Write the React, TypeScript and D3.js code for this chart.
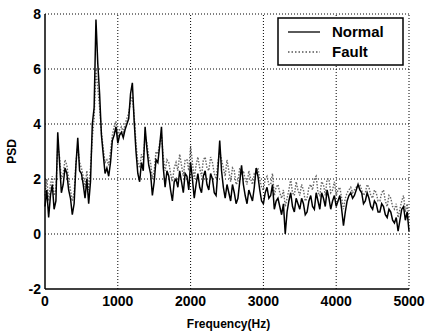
import * as d3 from "d3"

// PSD sampled every 25 Hz, 0..5000 Hz (one row = 200 Hz)
const freqStep = 25
const normalPsd = [
  1.0, 1.6, 0.6, 1.4, 1.8, 0.9, 1.2, 3.7,
  2.6, 1.5, 1.8, 2.4, 2.2, 1.6, 1.3, 0.7,
  1.1, 2.5, 3.5, 2.3, 2.2, 1.8, 1.3, 2.0,
  1.1, 1.9, 4.0, 4.6, 7.8, 6.2, 5.1, 3.6,
  2.9, 2.2, 2.4, 2.1, 2.6, 3.4, 3.6, 3.9,
  3.3, 3.6, 3.7, 3.5, 3.8, 4.0, 4.2, 5.1,
  5.5, 4.1, 3.0, 2.2, 1.9, 2.6, 2.3, 3.9,
  3.1, 2.5, 2.2, 1.4, 1.9, 2.7, 2.6, 3.2,
  3.9, 2.4, 1.7, 2.3, 2.1, 1.6, 1.2, 1.9,
  2.0, 1.7, 2.3, 1.9, 1.5, 2.2, 2.1, 1.6,
  2.6, 2.0, 1.3, 1.8, 2.2, 1.7, 1.5, 2.1,
  2.3, 1.8, 1.6, 2.2, 2.0, 1.5, 1.4, 2.3,
  3.4, 2.3, 1.7, 1.3, 1.8, 1.5, 1.2, 1.8,
  1.5, 1.1, 1.3, 1.9, 2.5, 1.8, 1.4, 1.1,
  1.6, 1.4, 1.2, 1.7, 2.4, 2.1, 1.6, 1.2,
  1.1, 1.5, 1.7, 1.3, 1.4, 1.8, 0.9, 1.2,
  1.3, 1.0, 0.7, 1.1, 0.0, 0.8, 1.2, 1.5,
  1.0, 0.8, 1.3, 1.1, 0.9, 1.3, 1.1, 0.7,
  0.8, 1.2, 1.4, 1.0, 0.9, 1.5, 1.2, 0.9,
  1.5, 1.3, 1.0, 1.6, 1.3, 0.9, 1.2, 1.4,
  1.0, 1.2, 1.4, 0.9, 0.3, 0.8, 1.2, 1.4,
  1.5, 1.3, 1.4, 1.6, 1.8, 1.6, 1.5, 1.1,
  1.2, 1.5, 1.3, 1.0, 0.9, 1.2, 1.1, 0.8,
  0.8, 1.1, 1.0, 0.7, 0.6, 0.9, 0.8, 0.5,
  0.4, 0.6, 0.1, 0.5, 0.9, 1.0, 0.5, 0.8,
  0.1,
]
const faultPsd = [
  1.4, 2.0, 1.2, 1.8, 2.1, 1.4, 1.6, 3.2,
  2.8, 2.0, 2.2, 2.7, 2.5, 2.0, 1.6, 1.2,
  1.5, 2.6, 3.2, 2.6, 2.4, 2.1, 1.7, 2.3,
  1.6, 2.4, 3.5, 4.2, 6.0, 5.3, 4.6, 3.7,
  3.1, 2.6, 2.7, 2.5, 3.0, 3.6, 3.9, 4.1,
  3.5, 3.8, 3.9, 3.7, 4.0, 4.2, 4.4, 4.8,
  5.0, 4.3, 3.3, 2.6, 2.4, 2.9, 2.7, 3.6,
  3.3, 2.8, 2.6, 2.0, 2.3, 3.0, 2.9, 3.3,
  3.6, 2.8, 2.3, 2.7, 2.6, 2.2, 1.9, 2.4,
  2.6, 2.3, 2.9, 2.5, 2.1, 2.7, 2.7, 2.3,
  3.2, 2.6, 2.0, 2.5, 2.8, 2.4, 2.1, 2.7,
  2.8, 2.4, 2.3, 2.8, 2.6, 2.2, 2.0, 2.6,
  3.0, 2.7, 2.4, 2.1, 2.7, 2.3, 1.9, 2.4,
  2.3, 1.8, 1.9, 2.4, 2.2, 2.3, 2.0, 1.8,
  2.3, 2.0, 1.8, 2.2, 2.2, 2.4, 2.0, 1.7,
  1.6, 2.0, 2.1, 1.8, 1.8, 2.2, 1.4, 1.7,
  1.8, 1.5, 1.3, 1.6, 1.0, 1.3, 1.6, 2.0,
  1.5, 1.4, 1.9, 1.6, 1.4, 1.8, 1.6, 1.2,
  1.3, 1.7, 1.8, 1.6, 2.0, 2.1, 1.5, 1.4,
  1.9, 1.8, 1.4, 2.0, 2.0, 1.5, 1.6, 1.9,
  1.4, 1.6, 1.7, 1.3, 0.9, 1.3, 1.5, 1.6,
  1.7, 1.5, 1.6, 1.7, 1.7, 1.8, 1.6, 1.4,
  1.5, 1.8, 1.7, 1.4, 1.3, 1.6, 1.5, 1.2,
  1.2, 1.5, 1.6, 1.2, 1.0, 1.4, 1.3, 1.0,
  0.9, 1.1, 0.6, 0.9, 1.2, 1.4, 0.8, 1.1,
  0.5,
]
const xTicks = [0, 1000, 2000, 3000, 4000, 5000]
const yTicks = [-2, 0, 2, 4, 6, 8]
const seriesNames = ["Normal", "Fault"]

const W = 431
const H = 331
const margin = { left: 45, right: 22, top: 14, bottom: 42 }

export default function App() {
  const x = d3.scaleLinear().domain([0, 5000]).range([margin.left, W - margin.right])
  const y = d3.scaleLinear().domain([-2, 8]).range([H - margin.bottom, margin.top])

  const line = d3.line<number>()
    .x((_, i) => x(i * freqStep))
    .y(d => y(d))

  const font = "'Liberation Sans', Arial, sans-serif"
  const legX = 278
  const legY = 18

  return (
    <svg width={W} height={H} style={{ position: "absolute", left: 0, top: 0, background: "#fff" }}
      fontFamily={font}>
      {/* grid */}
      {xTicks.slice(1, -1).map(t => (
        <line key={"gx" + t} x1={x(t)} x2={x(t)} y1={y(-2)} y2={y(8)}
          stroke="#000" strokeWidth={1} strokeDasharray="1,2" />
      ))}
      {yTicks.slice(1, -1).map(t => (
        <line key={"gy" + t} x1={x(0)} x2={x(5000)} y1={y(t)} y2={y(t)}
          stroke="#000" strokeWidth={1} strokeDasharray="1,2" />
      ))}
      <line x1={x(0)} x2={x(5000)} y1={y(8)} y2={y(8)} stroke="#000" strokeWidth={1} strokeDasharray="1,2" />
      <line x1={x(5000)} x2={x(5000)} y1={y(-2)} y2={y(8)} stroke="#000" strokeWidth={1} strokeDasharray="1,2" />

      {/* series */}
      <path d={line(faultPsd) ?? ""} fill="none" stroke="#666" strokeWidth={1.4} strokeDasharray="1.5,1.5" />
      <path d={line(normalPsd) ?? ""} fill="none" stroke="#000" strokeWidth={1.5} />

      {/* axes frame */}
      <line x1={x(0)} x2={x(0)} y1={y(-2)} y2={y(8)} stroke="#000" strokeWidth={1.5} />
      <line x1={x(0)} x2={x(5000)} y1={y(-2)} y2={y(-2)} stroke="#000" strokeWidth={1.5} />

      {/* tick labels */}
      {yTicks.map(t => (
        <text key={"ty" + t} x={x(0) - 4} y={y(t)} dy="0.35em" textAnchor="end"
          fontSize={14} fontWeight="bold">{t}</text>
      ))}
      {xTicks.map(t => (
        <text key={"tx" + t} x={x(t)} y={y(-2) + 17} textAnchor="middle"
          fontSize={14} fontWeight="bold">{t}</text>
      ))}

      {/* axis labels */}
      <text x={W / 2 + 13} y={H - 3} textAnchor="middle" fontSize={12} fontWeight="bold">Frequency(Hz)</text>
      <text transform={`translate(16,${(y(8) + y(-2)) / 2}) rotate(-90)`} textAnchor="middle"
        fontSize={12} fontWeight="bold">PSD</text>

      {/* legend */}
      <rect x={legX} y={legY} width={125} height={47} fill="#fff" stroke="#000" strokeWidth={1.5} />
      {seriesNames.map((name, i) => (
        <g key={name}>
          <line x1={legX + 10} x2={legX + 42} y1={legY + 14 + i * 20} y2={legY + 14 + i * 20}
            stroke={i === 0 ? "#000" : "#555"} strokeWidth={1.3}
            strokeDasharray={i === 0 ? undefined : "1.5,2"} />
          <text x={legX + 54} y={legY + 14 + i * 20} dy="0.35em" fontSize={15} fontWeight="bold">{name}</text>
        </g>
      ))}
    </svg>
  )
}
